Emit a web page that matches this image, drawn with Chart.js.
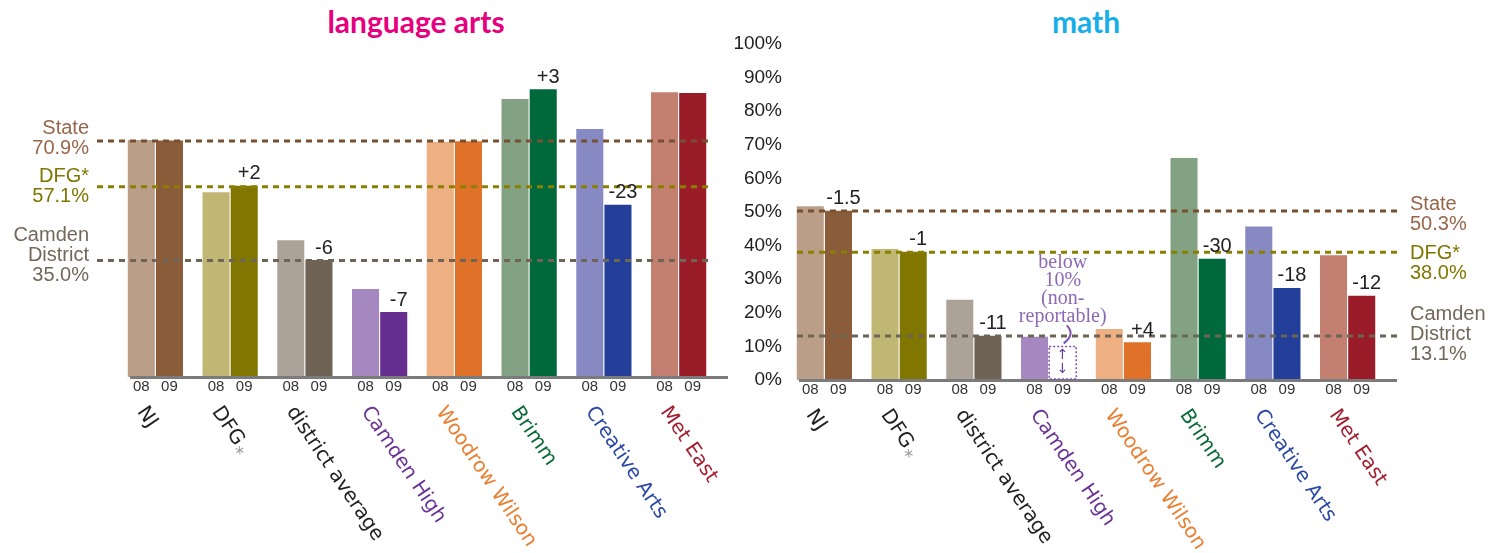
<!DOCTYPE html>
<html>
<head>
<meta charset="utf-8">
<script src="https://cdn.jsdelivr.net/npm/chart.js@4.4.1/dist/chart.umd.min.js"></script>
<style>
  body { margin: 0; background: #fff; }
  #wrap { position: relative; width: 1498px; height: 553px; overflow: hidden; }
  canvas { position: absolute; top: 0; }
  .title { position: absolute; top: 3px; font: bold 30px Lato, sans-serif; text-align: center; line-height: 36px; }
</style>
</head>
<body>
<div id="wrap">
  <div class="title" style="left:0;width:832px;color:#e6007e">language arts</div>
  <div class="title" style="left:986px;width:200px;color:#18aee9">math</div>
  <canvas id="laChart" width="740" height="553" style="left:0"></canvas>
  <canvas id="mathChart" width="768" height="553" style="left:730px"></canvas>
</div>
<script>
const schools = ["NJ", "DFG", "district average", "Camden High", "Woodrow Wilson", "Brimm", "Creative Arts", "Met East"];
const years = ["08", "09"];

const la08 = [71.2, 55.5, 41.1, 26.4, 70.6, 83.5, 74.5, 85.5];
const la09 = [71.0, 57.4, 35.1, 19.5, 70.8, 86.4, 51.7, 85.3];
const laChange = ["", "+2", "-6", "-7", "", "+3", "-23", ""];

const math08 = [51.7, 39.0, 23.9, 12.9, 15.2, 66.1, 45.7, 37.1];
const math09 = [50.4, 38.2, 13.2, null, 11.2, 36.1, 27.4, 25.1];
const mathChange = ["-1.5", "-1", "-11", "", "+4", "-30", "-18", "-12"];

const refNames = [["State"], ["DFG*"], ["Camden", "District"]];
const laRefs = [70.9, 57.1, 35.0];
const mathRefs = [50.3, 38.0, 13.1];

const naThreshold = 10;
const naNote = ["below", "10%", "(non-", "reportable)"];

const colors08 = ["#bb9e87", "#c1b775", "#aca298", "#a488bf", "#eeb083", "#83a283", "#8789c3", "#c38070"];
const colors09 = ["#8b5c3a", "#807600", "#6f6355", "#652d90", "#df7228", "#00693b", "#233f99", "#9a1c28"];
const catColors = ["#222222", "#222222", "#222222", "#6a3394", "#e98034", "#0a6a38", "#2b49a4", "#a31e2e"];
const refLineColors = ["#76502f", "#8a7f00", "#6f6557"];
const refTextColors = ["#97664a", "#807600", "#736858"];

const overlay = {
  id: "overlay",
  afterDraw(chart, args, o) {
    const ctx = chart.ctx;
    const area = chart.chartArea;
    const ys = chart.scales.y;
    const xs = chart.scales.x;
    const m0 = chart.getDatasetMeta(0);
    const m1 = chart.getDatasetMeta(1);
    ctx.save();

    // base line
    ctx.fillStyle = "#7b7b7b";
    ctx.fillRect(area.left + 12, area.bottom - 1, area.right - area.left, 3);

    // year labels
    ctx.font = "15px 'Liberation Sans', Arial, sans-serif";
    ctx.fillStyle = "#333";
    ctx.textAlign = "center";
    ctx.textBaseline = "middle";
    [m0, m1].forEach((m, d) => {
      m.data.forEach((bar, i) => {
        const x = isNaN(bar.x) ? m0.data[i].x + m0.data[i].width + 3 : bar.x;
        ctx.fillText(years[d], x, area.bottom + 10);
      });
    });

    // not reportable box
    o.values09.forEach((v, i) => {
      if (v !== null) return;
      const cx = m1.data[i].x;
      const w = m0.data[i].width;
      const top = ys.getPixelForValue(naThreshold);
      ctx.strokeStyle = "#7d4fb0";
      ctx.lineWidth = 1.5;
      ctx.setLineDash([2, 2]);
      ctx.strokeRect(cx - w / 2, top, w, area.bottom - top - 1);
      ctx.setLineDash([]);
      ctx.fillStyle = "#6a3d9a";
      ctx.font = "14px 'DejaVu Sans', sans-serif";
      ctx.fillText("\u2191", cx, top + 9);
      ctx.fillText("\u2193", cx, area.bottom - 11);
      ctx.fillStyle = "#8c69b4";
      ctx.font = "20px 'Liberation Serif', serif";
      naNote.forEach((t, k) => ctx.fillText(t, cx, top - 84 + k * 18));
      ctx.strokeStyle = "#7d4fb0";
      ctx.lineWidth = 2;
      ctx.beginPath();
      ctx.moveTo(cx + 4, top - 21);
      ctx.quadraticCurveTo(cx + 13, top - 12, cx + 1, top - 3);
      ctx.stroke();
    });

    // reference lines
    o.refs.forEach((r, i) => {
      const y = ys.getPixelForValue(r);
      ctx.strokeStyle = refLineColors[i];
      ctx.lineWidth = 3;
      ctx.setLineDash([6, 5]);
      ctx.beginPath();
      ctx.moveTo(area.left + o.lineFrom, y);
      ctx.lineTo(area.right + o.lineTo, y);
      ctx.stroke();
      ctx.setLineDash([]);
      ctx.fillStyle = refTextColors[i];
      ctx.font = "20px 'Liberation Sans', Arial, sans-serif";
      ctx.textAlign = o.labelAlign;
      const lines = refNames[i].concat([r.toFixed(1) + "%"]);
      lines.forEach((t, k) => ctx.fillText(t, o.labelX, y + o.labelDy[i] + k * 20));
    });

    // change labels
    ctx.fillStyle = "#222";
    ctx.font = "20px 'Liberation Sans', Arial, sans-serif";
    ctx.textAlign = "center";
    o.change.forEach((c, i) => {
      if (!c) return;
      const bar = m1.data[i];
      ctx.fillText(c, bar.x + 5, bar.y - 12);
    });

    // category labels
    ctx.textAlign = "left";
    ctx.textBaseline = "top";
    schools.forEach((s, i) => {
      const cx = xs.getPixelForValue(i);
      ctx.save();
      ctx.translate(cx - 6, area.bottom + 26);
      ctx.rotate(56 * Math.PI / 180);
      ctx.font = "20px 'DejaVu Sans', sans-serif";
      ctx.fillStyle = catColors[i];
      ctx.fillText(s, 0, 0);
      if (s === "DFG") {
        const w = ctx.measureText(s).width;
        ctx.fillStyle = "#999";
        ctx.font = "18px 'DejaVu Sans', sans-serif";
        ctx.fillText("*", w + 1, 9);
      }
      ctx.restore();
    });

    ctx.restore();
  }
};

function makeChart(id, v08, v09, padding, showY, extra) {
  const yScale = {
    display: showY,
    min: 0,
    max: 100,
    grid: { display: false, drawTicks: false },
    border: { display: false },
    ticks: {
      stepSize: 10,
      padding: 5,
      color: "#222",
      font: { family: "'Liberation Sans', Arial, sans-serif", size: 19 },
      callback: (v) => v + "%"
    }
  };
  if (showY) yScale.afterFit = (scale) => { scale.width = 57; };
  return new Chart(document.getElementById(id), {
    type: "bar",
    data: {
      labels: schools,
      datasets: [
        { label: years[0], data: v08, backgroundColor: colors08, borderWidth: 0,
          categoryPercentage: 0.754, barPercentage: 0.96 },
        { label: years[1], data: v09, backgroundColor: colors09, borderWidth: 0,
          categoryPercentage: 0.754, barPercentage: 0.96 }
      ]
    },
    options: {
      responsive: false,
      animation: false,
      layout: { padding: padding },
      scales: {
        x: { display: false },
        y: yScale
      },
      plugins: {
        legend: { display: false },
        tooltip: { enabled: false },
        overlay: Object.assign({ values09: v09 }, extra)
      }
    },
    plugins: [overlay]
  });
}

makeChart("laChart", la08, la09, { left: 118, right: 24, top: 44, bottom: 176 }, false, {
  refs: laRefs, change: laChange, lineFrom: -21, lineTo: -6,
  labelX: 89, labelAlign: "right", labelDy: [-12, -10, -25]
});

makeChart("mathChart", math08, math09, { left: 0, right: 113, top: 44, bottom: 173 }, true, {
  refs: mathRefs, change: mathChange, lineFrom: 10, lineTo: 12,
  labelX: 680, labelAlign: "left", labelDy: [-7, 1, -21]
});
</script>
</body>
</html>
